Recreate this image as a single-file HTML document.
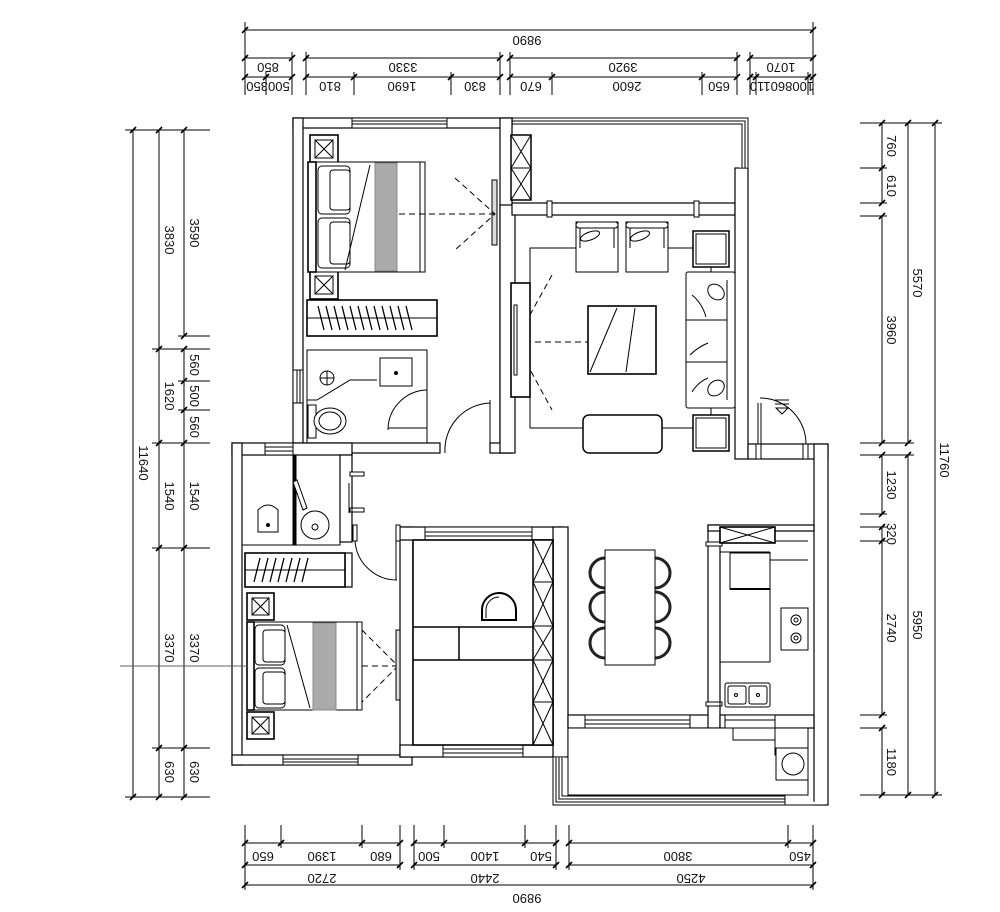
<!DOCTYPE html>
<html><head><meta charset="utf-8"><style>
html,body{margin:0;padding:0;background:#fff;}
svg{display:block;}
text{font-family:"Liberation Sans",sans-serif;font-size:13px;fill:#111;}
</style></head><body>
<svg width="1000" height="912" viewBox="0 0 1000 912" xmlns="http://www.w3.org/2000/svg">
<rect width="1000" height="912" fill="#fff"/>
<g stroke="#000" stroke-width="1" fill="none">
<!-- TOP DIMS -->
<line x1="245" y1="30" x2="813" y2="30"/>
<line x1="245" y1="58" x2="292" y2="58"/><line x1="306" y1="58" x2="500" y2="58"/><line x1="510" y1="58" x2="737" y2="58"/><line x1="750" y1="58" x2="813" y2="58"/>
<line x1="245" y1="77" x2="292" y2="77"/><line x1="306" y1="77" x2="500" y2="77"/><line x1="510" y1="77" x2="737" y2="77"/><line x1="750" y1="77" x2="813" y2="77"/>
<g>
<line x1="245" y1="22" x2="245" y2="95"/><line x1="813" y1="22" x2="813" y2="95"/>
<line x1="292" y1="52" x2="292" y2="95"/><line x1="306" y1="52" x2="306" y2="95"/><line x1="500" y1="52" x2="500" y2="95"/><line x1="510" y1="52" x2="510" y2="95"/><line x1="737" y1="52" x2="737" y2="95"/><line x1="750" y1="52" x2="750" y2="95"/>
<line x1="266" y1="72" x2="266" y2="95"/><line x1="354" y1="72" x2="354" y2="95"/><line x1="451" y1="72" x2="451" y2="95"/><line x1="552" y1="72" x2="552" y2="95"/><line x1="702" y1="72" x2="702" y2="95"/><line x1="756" y1="72" x2="756" y2="95"/><line x1="808" y1="72" x2="808" y2="95"/>
</g>
<!-- LEFT DIMS -->
<line x1="133" y1="130" x2="133" y2="797"/>
<line x1="159" y1="130" x2="159" y2="797"/>
<line x1="184" y1="130" x2="184" y2="336"/><line x1="184" y1="349" x2="184" y2="797"/>
<line x1="125" y1="130" x2="210" y2="130"/><line x1="178" y1="336" x2="210" y2="336"/><line x1="152" y1="349" x2="210" y2="349"/>
<line x1="178" y1="381" x2="210" y2="381"/><line x1="178" y1="410" x2="210" y2="410"/><line x1="152" y1="443" x2="210" y2="443"/>
<line x1="152" y1="548" x2="210" y2="548"/><line x1="152" y1="748" x2="210" y2="748"/><line x1="125" y1="797" x2="210" y2="797"/>
<!-- RIGHT DIMS -->
<line x1="882" y1="123" x2="882" y2="203"/><line x1="882" y1="216" x2="882" y2="443"/><line x1="882" y1="455" x2="882" y2="514"/><line x1="882" y1="527" x2="882" y2="715"/><line x1="882" y1="728" x2="882" y2="795"/>
<line x1="908" y1="123" x2="908" y2="443"/><line x1="908" y1="455" x2="908" y2="795"/>
<line x1="935" y1="123" x2="935" y2="795"/>
<line x1="860" y1="123" x2="942" y2="123"/><line x1="860" y1="168" x2="887" y2="168"/><line x1="860" y1="203" x2="887" y2="203"/><line x1="860" y1="216" x2="887" y2="216"/>
<line x1="860" y1="443" x2="914" y2="443"/><line x1="860" y1="455" x2="914" y2="455"/><line x1="860" y1="514" x2="887" y2="514"/><line x1="860" y1="527" x2="887" y2="527"/><line x1="860" y1="541" x2="887" y2="541"/>
<line x1="860" y1="715" x2="887" y2="715"/><line x1="860" y1="728" x2="887" y2="728"/><line x1="860" y1="795" x2="942" y2="795"/>
<!-- BOTTOM DIMS -->
<line x1="245" y1="843" x2="400" y2="843"/><line x1="414" y1="843" x2="556" y2="843"/><line x1="569" y1="843" x2="813" y2="843"/>
<line x1="245" y1="865" x2="400" y2="865"/><line x1="414" y1="865" x2="556" y2="865"/><line x1="569" y1="865" x2="813" y2="865"/>
<line x1="245" y1="885" x2="813" y2="885"/>
<line x1="245" y1="825" x2="245" y2="890"/><line x1="281" y1="825" x2="281" y2="848"/><line x1="362" y1="825" x2="362" y2="848"/><line x1="400" y1="825" x2="400" y2="870"/>
<line x1="414" y1="825" x2="414" y2="870"/><line x1="444" y1="825" x2="444" y2="848"/><line x1="525" y1="825" x2="525" y2="848"/><line x1="556" y1="825" x2="556" y2="870"/>
<line x1="569" y1="825" x2="569" y2="870"/><line x1="788" y1="825" x2="788" y2="848"/><line x1="813" y1="825" x2="813" y2="890"/>
</g>
<!-- ticks -->
<g stroke="#000" stroke-width="1.6">
<path d="M242 33l6-6M810 33l6-6M242 61l6-6M289 61l6-6M303 61l6-6M497 61l6-6M507 61l6-6M734 61l6-6M747 61l6-6M810 61l6-6M242 80l6-6M263 80l6-6M289 80l6-6M303 80l6-6M351 80l6-6M448 80l6-6M497 80l6-6M507 80l6-6M549 80l6-6M699 80l6-6M734 80l6-6M747 80l6-6M753 80l6-6M805 80l6-6M810 80l6-6"/>
<path d="M130 133l6-6M156 133l6-6M181 133l6-6M181 339l6-6M130 800l6-6M156 352l6-6M181 352l6-6M181 384l6-6M181 413l6-6M156 446l6-6M181 446l6-6M156 551l6-6M181 551l6-6M156 751l6-6M181 751l6-6M156 800l6-6M181 800l6-6"/>
<path d="M879 126l6-6M905 126l6-6M932 126l6-6M879 171l6-6M879 206l6-6M879 219l6-6M879 446l6-6M905 446l6-6M879 458l6-6M905 458l6-6M879 517l6-6M879 530l6-6M879 544l6-6M879 718l6-6M879 731l6-6M879 798l6-6M905 798l6-6M932 798l6-6"/>
<path d="M242 846l6-6M278 846l6-6M359 846l6-6M397 846l6-6M411 846l6-6M441 846l6-6M522 846l6-6M553 846l6-6M566 846l6-6M785 846l6-6M810 846l6-6M242 868l6-6M397 868l6-6M411 868l6-6M553 868l6-6M566 868l6-6M810 868l6-6M242 888l6-6M810 888l6-6"/>
</g>
<!-- dim labels top (upside down) -->
<g text-anchor="middle">
<text transform="translate(527,36) rotate(180)">9890</text>
<text transform="translate(268,63) rotate(180)">850</text>
<text transform="translate(403,63) rotate(180)">3330</text>
<text transform="translate(623,63) rotate(180)">3920</text>
<text transform="translate(781,63) rotate(180)">1070</text>
<text transform="translate(268,82) rotate(180)" font-size="12">500350</text>
<text transform="translate(330,82) rotate(180)">810</text>
<text transform="translate(402,82) rotate(180)">1690</text>
<text transform="translate(475,82) rotate(180)">830</text>
<text transform="translate(531,82) rotate(180)">670</text>
<text transform="translate(627,82) rotate(180)">2600</text>
<text transform="translate(719,82) rotate(180)">650</text>
<text transform="translate(782,82) rotate(180)" font-size="12">100860110</text>
<!-- bottom -->
<text transform="translate(263,852) rotate(180)">650</text>
<text transform="translate(322,852) rotate(180)">1390</text>
<text transform="translate(381,852) rotate(180)">680</text>
<text transform="translate(429,852) rotate(180)">500</text>
<text transform="translate(485,852) rotate(180)">1400</text>
<text transform="translate(541,852) rotate(180)">540</text>
<text transform="translate(678,852) rotate(180)">3800</text>
<text transform="translate(800,852) rotate(180)">450</text>
<text transform="translate(322,874) rotate(180)">2720</text>
<text transform="translate(485,874) rotate(180)">2440</text>
<text transform="translate(691,874) rotate(180)">4250</text>
<text transform="translate(527,894) rotate(180)">9890</text>
<!-- left (rotated 90) -->
<text transform="translate(139,463) rotate(90)">11640</text>
<text transform="translate(165,240) rotate(90)">3830</text>
<text transform="translate(190,233) rotate(90)">3590</text>
<text transform="translate(165,396) rotate(90)">1620</text>
<text transform="translate(190,365) rotate(90)">560</text>
<text transform="translate(190,396) rotate(90)">500</text>
<text transform="translate(190,427) rotate(90)">560</text>
<text transform="translate(165,496) rotate(90)">1540</text>
<text transform="translate(190,496) rotate(90)">1540</text>
<text transform="translate(165,648) rotate(90)">3370</text>
<text transform="translate(190,648) rotate(90)">3370</text>
<text transform="translate(165,772) rotate(90)">630</text>
<text transform="translate(190,772) rotate(90)">630</text>
<!-- right -->
<text transform="translate(887,146) rotate(90)">760</text>
<text transform="translate(887,186) rotate(90)">610</text>
<text transform="translate(887,330) rotate(90)">3960</text>
<text transform="translate(887,485) rotate(90)">1230</text>
<text transform="translate(887,534) rotate(90)" font-size="12">320</text>
<text transform="translate(887,628) rotate(90)">2740</text>
<text transform="translate(887,762) rotate(90)">1180</text>
<text transform="translate(913,283) rotate(90)">5570</text>
<text transform="translate(913,625) rotate(90)">5950</text>
<text transform="translate(940,460) rotate(90)">11760</text>
</g>

<!-- WALLS -->
<g stroke="#000" stroke-width="1.2" fill="#fff">
<rect x="293" y="118" width="219" height="10"/>
<rect x="293" y="118" width="10" height="335"/>
<rect x="500" y="118" width="12" height="335"/>
<rect x="293" y="443" width="147" height="10"/>
<rect x="490" y="443" width="22" height="10"/>
<rect x="500" y="205" width="15" height="248"/>
<rect x="512" y="203" width="223" height="12"/>
<rect x="735" y="168" width="13" height="291"/>
<rect x="748" y="444" width="80" height="15"/>
<rect x="814" y="444" width="14" height="361"/>
<rect x="232" y="443" width="120" height="12"/>
<rect x="232" y="443" width="10" height="322"/>
<rect x="340" y="455" width="12" height="87"/>
<rect x="232" y="755" width="180" height="10"/>
<rect x="400" y="527" width="13" height="230"/>
<rect x="400" y="527" width="162" height="13"/>
<rect x="400" y="745" width="168" height="12"/>
<rect x="553" y="527" width="15" height="230"/>
<rect x="568" y="715" width="152" height="13"/>
<rect x="708" y="525" width="12" height="203"/>
<rect x="708" y="525" width="106" height="6"/>
<rect x="720" y="715" width="94" height="13"/>
<rect x="345" y="553" width="7" height="34"/>
</g>
<g stroke="#000" stroke-width="1" fill="#fff">
<!-- top balcony triple rails -->
<path d="M512 118H748V168M512 121H745V168M512 124H742V168"/>
<rect x="512" y="118" width="0.1" height="1"/>
<!-- lower balcony triple rails -->
<path d="M553 757V805H785M556 757V802H785M559 757V799H785M562 757V796H785"/>
<path d="M785 795V805H828"/>
<path d="M568 728H808V795H568Z" />
<path d="M808 728V745"/>
<!-- windows -->
<rect x="352" y="118" width="95" height="10"/><line x1="352" y1="121" x2="447" y2="121"/><line x1="352" y1="124" x2="447" y2="124"/>
<rect x="293" y="370" width="10" height="33"/><line x1="297" y1="370" x2="297" y2="403"/><line x1="300" y1="370" x2="300" y2="403"/>
<rect x="265" y="443" width="28" height="12"/><line x1="265" y1="447" x2="293" y2="447"/><line x1="265" y1="451" x2="293" y2="451"/>
<rect x="283" y="755" width="75" height="10"/><line x1="283" y1="759" x2="358" y2="759"/><line x1="283" y1="762" x2="358" y2="762"/>
<rect x="443" y="745" width="80" height="12"/><line x1="443" y1="749" x2="523" y2="749"/><line x1="443" y1="753" x2="523" y2="753"/>
<rect x="425" y="527" width="107" height="13"/><line x1="425" y1="532" x2="532" y2="532"/><line x1="425" y1="536" x2="532" y2="536"/>
<rect x="585" y="715" width="105" height="13"/><line x1="585" y1="720" x2="690" y2="720"/><line x1="585" y1="724" x2="690" y2="724"/>
<rect x="725" y="715" width="50" height="13"/><line x1="725" y1="720" x2="775" y2="720"/>
<!-- door jambs -->
<rect x="547" y="201" width="5" height="16"/><rect x="694" y="201" width="5" height="16"/>
<rect x="756" y="444" width="5" height="15"/><rect x="803" y="444" width="5" height="15"/>
<rect x="706" y="542" width="16" height="4"/><rect x="706" y="702" width="16" height="4"/>
<rect x="350" y="472" width="14" height="4"/><rect x="350" y="508" width="14" height="4"/>
<rect x="353" y="525" width="4" height="16"/><rect x="396" y="525" width="4" height="16"/>
</g>
<!-- doors -->
<g stroke="#000" stroke-width="1" fill="none">
<path d="M445 453A47 47 0 0 1 490 403"/><line x1="490" y1="400" x2="490" y2="453"/>
<path d="M427 390A40 40 0 0 0 388 430"/><line x1="388" y1="428" x2="427" y2="428"/><line x1="427" y1="380" x2="427" y2="443"/>
<path d="M760 398A46 46 0 0 1 806 444"/><line x1="758" y1="403" x2="758" y2="444"/><line x1="761" y1="403" x2="761" y2="444"/>
<path d="M355 541A42 42 0 0 0 397 580"/><line x1="396" y1="540" x2="396" y2="580"/>
<line x1="349" y1="483" x2="349" y2="513"/><line x1="352" y1="483" x2="352" y2="513"/>
<!-- entry meter -->
<path d="M775 400h14M775 404h14M776 408h12l-6 6z"/>
</g>

<!-- MASTER BEDROOM FURNITURE -->
<g stroke="#000" stroke-width="1" fill="#fff">
<rect x="310" y="135" width="28" height="28" stroke-width="1.6"/><rect x="315" y="140" width="18" height="18"/><path d="M315 140l18 18M333 140l-18 18"/>
<rect x="310" y="271" width="28" height="28" stroke-width="1.6"/><rect x="315" y="276" width="18" height="18"/><path d="M315 276l18 18M333 276l-18 18"/>
<rect x="308" y="162" width="117" height="110"/>
<rect x="308" y="162" width="8" height="110" stroke-width="1.6"/>
<rect x="318" y="166" width="32" height="48" rx="4"/><rect x="330" y="170" width="20" height="40" rx="3"/>
<rect x="318" y="218" width="32" height="50" rx="4"/><rect x="330" y="222" width="20" height="42" rx="3"/>
<rect x="375" y="163" width="22" height="108" fill="#aaa" stroke="#888"/>
<line x1="345" y1="270" x2="370" y2="165"/>
<line x1="420" y1="162" x2="420" y2="272"/>
<rect x="492" y="180" width="5" height="65" fill="#ddd"/>
<rect x="307" y="300" width="130" height="36" stroke-width="1.6"/>
<line x1="307" y1="318" x2="437" y2="318"/>
<rect x="307" y="350" width="120" height="93" fill="none"/>
<rect x="380" y="358" width="32" height="28"/><circle cx="396" cy="373" r="1.5" fill="#000"/>
<circle cx="327" cy="378" r="7"/><path d="M320 378h14M327 371v14"/>
<path d="M307 400h10l33 -20h27"/>
<rect x="308" y="405" width="8" height="33"/><ellipse cx="330" cy="421" rx="16" ry="13"/><ellipse cx="330" cy="421" rx="11" ry="9"/>
</g>
<g stroke="#000" stroke-width="1.3">
<path d="M318 306l6 24M326 306l6 24M334 306l6 24M342 306l6 24M350 306l6 24M358 306l6 24M366 306l6 24M374 306l6 24M382 306l6 24M390 306l6 24M398 306l6 24M406 306l6 24"/>
</g>
<g stroke="#000" stroke-width="1" stroke-dasharray="6,4" fill="none">
<path d="M455 178L495 214L455 250M495 214H395"/>
<path d="M552 275L515 342L552 410M515 342H615"/>
<path d="M362 630L398 666L362 702M398 666H300"/>
</g>
<line x1="120" y1="666" x2="300" y2="666" stroke="#666" stroke-width="0.8"/>

<!-- LIVING -->
<g stroke="#000" stroke-width="1" fill="#fff">
<path d="M530 428V248H576M668 248H693M583 428H530M662 428H693" fill="none"/>
<rect x="576" y="222" width="42" height="50"/><rect x="576" y="222" width="42" height="6" rx="3"/><path d="M580 228v20M614 228v20"/><ellipse cx="590" cy="236" rx="10" ry="4" transform="rotate(-20 590 236)"/>
<rect x="626" y="222" width="42" height="50"/><rect x="626" y="222" width="42" height="6" rx="3"/><path d="M630 228v20M664 228v20"/><ellipse cx="640" cy="236" rx="10" ry="4" transform="rotate(-20 640 236)"/>
<rect x="693" y="231" width="36" height="36" stroke-width="1.5"/><rect x="696" y="234" width="30" height="30"/>
<rect x="693" y="415" width="36" height="36" stroke-width="1.5"/><rect x="696" y="418" width="30" height="30"/>
<line x1="711" y1="267" x2="711" y2="272"/><line x1="711" y1="408" x2="711" y2="415"/>
<rect x="686" y="272" width="49" height="136" rx="2"/>
<line x1="686" y1="320" x2="727" y2="320"/><line x1="686" y1="362" x2="727" y2="362"/><line x1="727" y1="280" x2="727" y2="400"/>
<ellipse cx="716" cy="292" rx="9" ry="7" transform="rotate(40 716 292)"/>
<ellipse cx="716" cy="388" rx="9" ry="7" transform="rotate(-40 716 388)"/>
<path d="M692 295q10 8 14 22M690 355q8 -8 18 -12M692 392q6 -10 16 -14" fill="none"/>
<rect x="588" y="306" width="68" height="68" stroke-width="1.6"/>
<line x1="590" y1="372" x2="617" y2="308"/><line x1="626" y1="372" x2="635" y2="308"/>
<rect x="511" y="283" width="19" height="114" stroke-width="1.6"/>
<rect x="514" y="305" width="3" height="70"/>
<rect x="583" y="415" width="79" height="38" rx="6" stroke-width="1.5"/>
<!-- balcony cabinet -->
<rect x="511" y="135" width="20" height="65" stroke-width="1.5"/><path d="M511 135l20 33M531 135l-20 33M511 168h20M511 168l20 32M531 168l-20 32"/>
</g>

<!-- DINING -->
<g stroke="#000" stroke-width="1" fill="#fff">
<g stroke-width="3" fill="none" stroke="#222">
<path d="M605 558a15 15 0 0 0 0 30M605 592a15 15 0 0 0 0 30M605 628a15 15 0 0 0 0 30"/>
<path d="M655 558a15 15 0 0 1 0 30M655 592a15 15 0 0 1 0 30M655 628a15 15 0 0 1 0 30"/>
</g>
<rect x="605" y="550" width="50" height="115"/>
</g>

<!-- KITCHEN -->
<g stroke="#000" stroke-width="1" fill="#fff">
<rect x="720" y="527" width="55" height="16" stroke-width="1.6"/><path d="M720 527l55 16M775 527l-55 16"/>
<path d="M775 541H808M720 552H770M770 552V560H808M720 552V715M770 552V580M720 662H770V560" fill="none"/>
<rect x="730" y="553" width="40" height="36"/><line x1="730" y1="589" x2="770" y2="589" stroke-width="2"/>
<rect x="781" y="608" width="27" height="42"/><circle cx="796" cy="620" r="5"/><circle cx="796" cy="620" r="2"/><circle cx="796" cy="638" r="5"/><circle cx="796" cy="638" r="2"/>
<rect x="725" y="683" width="45" height="24" rx="2"/><rect x="728" y="686" width="18" height="18" rx="2"/><rect x="749" y="686" width="18" height="18" rx="2"/>
<circle cx="736" cy="695" r="1.5"/><circle cx="758" cy="695" r="1.5"/>
<path d="M733 728V740H775V728M775 740V755H808" fill="none"/>
<rect x="776" y="748" width="32" height="32"/><circle cx="793" cy="764" r="11"/>
</g>

<!-- CENTER BEDROOM -->
<g stroke="#000" stroke-width="1" fill="#fff">
<rect x="413" y="540" width="140" height="205" stroke-width="1.6"/>
<rect x="533" y="540" width="20" height="205" stroke-width="1.5"/>
<path d="M533 540l20 42M553 540l-20 42M533 582h20M533 582l20 44M553 582l-20 44M533 626h20M533 626l20 34M553 626l-20 34M533 660h20M533 660l20 42M553 660l-20 42M533 702h20M533 702l20 43M553 702l-20 43"/>
<line x1="413" y1="627" x2="533" y2="627" stroke-width="1.5"/><line x1="413" y1="660" x2="533" y2="660" stroke-width="1.5"/><line x1="459" y1="627" x2="459" y2="660" stroke-width="1.5"/>
<path d="M482 620v-10a17 17 0 0 1 34 0v10z" stroke-width="2"/>
<path d="M486 618v-8a13 13 0 0 1 13 -13" fill="none"/>
</g>

<!-- LEFT BATH + BEDROOM -->
<g stroke="#000" stroke-width="1" fill="#fff">
<rect x="242" y="455" width="98" height="90" fill="none"/>
<rect x="293" y="455" width="3" height="90" fill="#000"/>
<path d="M297 480l10 28l-4 2l-10 -28z"/>
<circle cx="315" cy="525" r="14"/><circle cx="315" cy="527" r="3"/>
<path d="M258 510q10 -10 20 0v22h-20z"/><circle cx="268" cy="525" r="1.5" fill="#000"/>
<rect x="245" y="553" width="100" height="34" stroke-width="1.6"/><line x1="245" y1="570" x2="345" y2="570"/>
<rect x="247" y="593" width="27" height="27" stroke-width="1.6"/><rect x="252" y="598" width="17" height="17"/><path d="M252 598l17 17M269 598l-17 17"/>
<rect x="247" y="712" width="27" height="27" stroke-width="1.6"/><rect x="252" y="717" width="17" height="17"/><path d="M252 717l17 17M269 717l-17 17"/>
<rect x="247" y="622" width="115" height="88"/>
<rect x="247" y="622" width="7" height="88" stroke-width="1.6"/>
<rect x="255" y="625" width="30" height="40" rx="4"/><rect x="263" y="630" width="22" height="32" rx="3"/>
<rect x="255" y="668" width="30" height="40" rx="4"/><rect x="263" y="672" width="22" height="32" rx="3"/>
<rect x="313" y="623" width="23" height="87" fill="#aaa" stroke="#888"/>
<line x1="287" y1="625" x2="310" y2="708"/><line x1="357" y1="622" x2="357" y2="710"/>
<rect x="396" y="630" width="4" height="70" fill="#ddd"/>
</g>
<g stroke="#000" stroke-width="1.3">
<path d="M260 558l-6 24M268 558l-6 24M276 558l-6 24M284 558l-6 24M292 558l-6 24M300 558l-6 24M308 558l-6 24"/>
</g>
<line x1="120" y1="666" x2="248" y2="666" stroke="#555" stroke-width="0.8"/>
</svg>
</body></html>
